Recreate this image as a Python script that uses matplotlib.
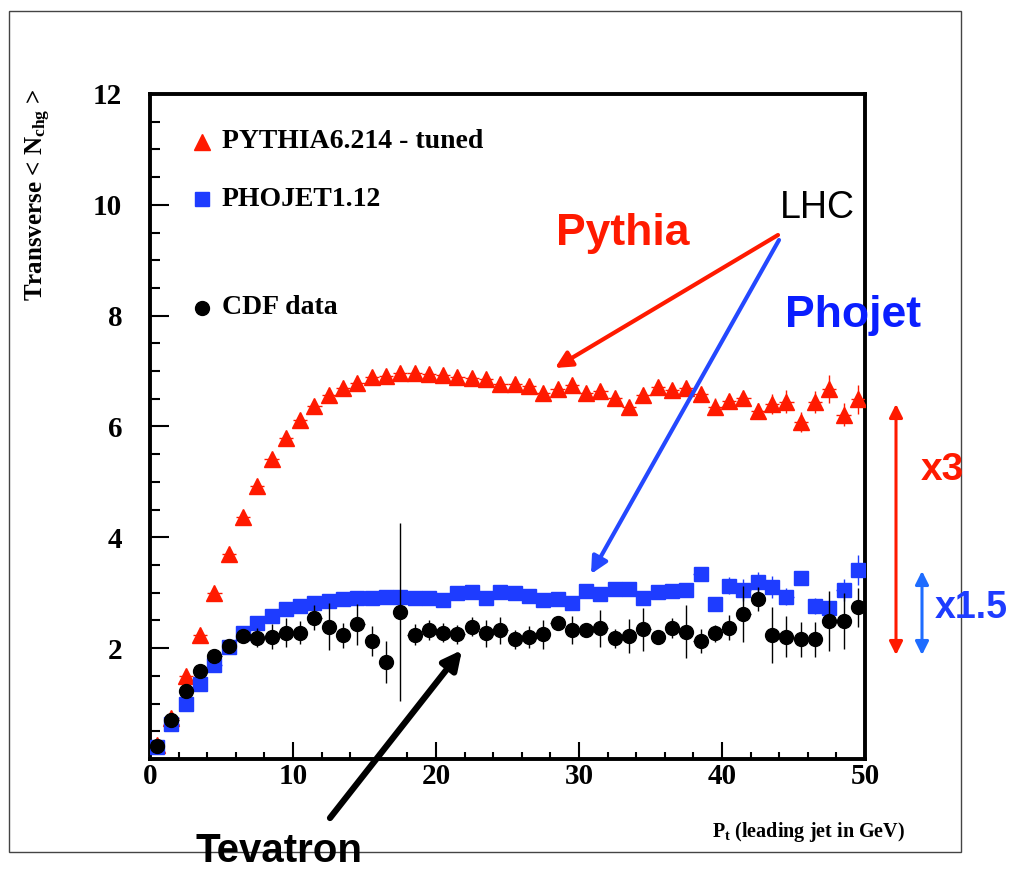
import numpy as np
import matplotlib
matplotlib.use("Agg")
import matplotlib.pyplot as plt
from matplotlib.lines import Line2D
from matplotlib.patches import Rectangle

plt.rcParams['mathtext.fontset'] = 'custom'
plt.rcParams['mathtext.rm'] = 'Liberation Serif:bold'
plt.rcParams['mathtext.it'] = 'Liberation Serif:bold'
plt.rcParams['mathtext.bf'] = 'Liberation Serif:bold'

# bin centres of leading jet Pt (GeV)
pt = np.arange(0.5, 50, 1.0)

pythia = [0.25, 0.74, 1.49, 2.24, 2.99, 3.70, 4.36, 4.92, 5.41, 5.79,
          6.11, 6.37, 6.56, 6.69, 6.78, 6.89, 6.91, 6.96, 6.96, 6.95,
          6.93, 6.89, 6.87, 6.86, 6.76, 6.77, 6.73, 6.61, 6.67, 6.74,
          6.61, 6.64, 6.51, 6.35, 6.56, 6.71, 6.65, 6.69, 6.58, 6.36,
          6.46, 6.51, 6.28, 6.40, 6.45, 6.08, 6.44, 6.68, 6.21, 6.49]
pythia_err = [0.02, 0.03, 0.03, 0.03, 0.03, 0.03, 0.03, 0.03, 0.03, 0.03,
              0.03, 0.03, 0.03, 0.03, 0.03, 0.03, 0.03, 0.03, 0.03, 0.03,
              0.04, 0.04, 0.04, 0.04, 0.04, 0.04, 0.05, 0.05, 0.05, 0.05,
              0.06, 0.06, 0.06, 0.07, 0.07, 0.08, 0.08, 0.08, 0.05, 0.15,
              0.10, 0.12, 0.15, 0.18, 0.20, 0.18, 0.20, 0.25, 0.21, 0.26]

phojet = [0.22, 0.64, 1.00, 1.35, 1.70, 2.02, 2.28, 2.45, 2.58, 2.71,
          2.76, 2.81, 2.86, 2.88, 2.90, 2.90, 2.92, 2.93, 2.91, 2.91,
          2.87, 3.00, 3.02, 2.91, 3.02, 3.00, 2.94, 2.87, 2.89, 2.81,
          3.04, 2.97, 3.06, 3.06, 2.91, 3.02, 3.04, 3.05, 3.33, 2.80,
          3.13, 3.05, 3.19, 3.11, 2.93, 3.26, 2.76, 2.72, 3.05, 3.41]
phojet_err = [0.02, 0.02, 0.02, 0.02, 0.02, 0.02, 0.02, 0.02, 0.02, 0.02,
              0.02, 0.02, 0.02, 0.02, 0.03, 0.03, 0.03, 0.03, 0.03, 0.03,
              0.03, 0.04, 0.04, 0.04, 0.04, 0.04, 0.05, 0.05, 0.05, 0.05,
              0.06, 0.06, 0.06, 0.06, 0.07, 0.07, 0.08, 0.08, 0.10, 0.10,
              0.15, 0.20, 0.18, 0.20, 0.15, 0.12, 0.15, 0.10, 0.20, 0.27]

cdf = [0.23, 0.70, 1.23, 1.59, 1.86, 2.04, 2.22, 2.19, 2.21, 2.28,
       2.28, 2.55, 2.39, 2.23, 2.43, 2.13, 1.75, 2.65, 2.24, 2.33,
       2.28, 2.25, 2.39, 2.27, 2.32, 2.16, 2.20, 2.25, 2.46, 2.33,
       2.32, 2.36, 2.18, 2.22, 2.34, 2.20, 2.36, 2.30, 2.13, 2.27,
       2.37, 2.62, 2.89, 2.24, 2.21, 2.16, 2.16, 2.49, 2.49, 2.74]
cdf_err = [0.02, 0.03, 0.04, 0.05, 0.06, 0.08, 0.12, 0.17, 0.23, 0.26,
           0.21, 0.22, 0.42, 0.23, 0.37, 0.27, 0.38, 1.61, 0.19, 0.18,
           0.17, 0.17, 0.17, 0.24, 0.24, 0.17, 0.20, 0.26, 0.10, 0.25,
           0.10, 0.33, 0.17, 0.30, 0.39, 0.10, 0.18, 0.47, 0.22, 0.15,
           0.22, 0.50, 0.22, 0.51, 0.37, 0.32, 0.32, 0.54, 0.51, 0.35]

red = '#ff1a00'
blue = '#1e3cff'

W, H = 1013, 871
fig = plt.figure(figsize=(W / 100, H / 100), dpi=100)


def fx(px):
    return px / W


def fy(py):
    return 1 - py / H


ax = fig.add_axes([fx(150), fy(759), (865 - 150) / W, (759 - 94) / H])

ax.errorbar(pt, pythia, yerr=pythia_err, xerr=0.5, fmt='^', color=red,
            ms=11, mec=red, elinewidth=1, capsize=0, zorder=3)
ax.errorbar(pt, phojet, yerr=phojet_err, xerr=0.5, fmt='s', color=blue,
            ms=9.5, mec=blue, elinewidth=1, capsize=0, zorder=4)
ax.errorbar(pt, cdf, yerr=cdf_err, xerr=0.5, fmt='o', color='black',
            ms=10, elinewidth=1, capsize=0, zorder=5)

ax.set_xlim(0, 50)
ax.set_ylim(0, 12)
ax.set_xticks([0, 10, 20, 30, 40, 50])
ax.set_xticks(np.arange(0, 51, 2), minor=True)
ax.set_yticks([2, 4, 6, 8, 10, 12])
ax.set_yticks(np.arange(0, 12.01, 0.5), minor=True)
ax.tick_params(which='both', direction='in', width=1.5, top=False, right=False)
ax.tick_params(axis='y', which='major', length=14, pad=20)
ax.tick_params(axis='y', which='minor', length=7)
ax.tick_params(axis='x', which='major', length=12, pad=3)
ax.tick_params(axis='x', which='minor', length=5)
for lab in ax.get_xticklabels() + ax.get_yticklabels():
    lab.set_fontfamily('Liberation Serif')
    lab.set_fontweight('bold')
    lab.set_fontsize(21)
for sp in ax.spines.values():
    sp.set_linewidth(2.8)

# axis titles
fig.text(fx(38), fy(195), r'Transverse < N$_{\mathrm{chg}}$ >', rotation=90,
         ha='center', va='center', family='Liberation Serif', weight='bold',
         fontsize=18)
fig.text(fx(905), fy(832), r'P$_{\mathrm{t}}$ (leading jet in GeV)',
         ha='right', va='center', family='Liberation Serif', weight='bold',
         fontsize=14.5)

# legend entries
legend_rows = [('^', red, 11, 'PYTHIA6.214 - tuned', 142),
               ('s', blue, 9.5, 'PHOJET1.12', 199),
               ('o', 'black', 10, 'CDF data', 308)]
for mk, col, ms, label, ypx in legend_rows:
    fig.add_artist(Line2D([fx(202)], [fy(ypx)], marker=mk, color=col, ms=ms,
                          mec=col, transform=fig.transFigure))
    fig.text(fx(222), fy(ypx), label, ha='left', va='center',
             family='Liberation Serif', weight='bold', fontsize=20)

# annotations
fig.text(fx(623), fy(233), 'Pythia', color=red, ha='center', va='center',
         family='Liberation Sans', weight='bold', fontsize=32)
fig.text(fx(817), fy(208), 'LHC', color='black', ha='center', va='center',
         family='Liberation Sans', fontsize=27)
fig.text(fx(853), fy(315), 'Phojet', color='#0a1eff', ha='center',
         va='center', family='Liberation Sans', weight='bold', fontsize=32)
fig.text(fx(942), fy(470), 'x3', color=red, ha='center', va='center',
         family='Liberation Sans', weight='bold', fontsize=28)
fig.text(fx(971), fy(608), 'x1.5', color=blue, ha='center', va='center',
         family='Liberation Sans', weight='bold', fontsize=27)
fig.text(fx(279), fy(851), 'Tevatron', color='black', ha='center',
         va='center', family='Liberation Sans', weight='bold', fontsize=29)


def arrow(x0, y0, x1, y1, col, lw, style='-|>', scale=22):
    fig.add_artist(matplotlib.patches.FancyArrowPatch(
        (fx(x0), fy(y0)), (fx(x1), fy(y1)), transform=fig.transFigure,
        arrowstyle=style, mutation_scale=scale, color=col, lw=lw,
        shrinkA=0, shrinkB=0))


arrow(778, 235, 555, 368, red, 3, scale=25)
arrow(779, 240, 591, 574, '#2448ff', 3, scale=25)
arrow(330, 818, 462, 650, 'black', 4.5, scale=28)
arrow(896, 655, 896, 404, red, 2.2, style='<|-|>', scale=20)
arrow(922, 655, 922, 571, '#1e6cff', 2.2, style='<|-|>', scale=20)

# outer frame
fig.add_artist(Rectangle((fx(9), fy(852)), (961 - 9) / W, (852 - 11) / H,
                         transform=fig.transFigure, fill=False,
                         edgecolor='#444444', lw=1))

fig.savefig('out.png', dpi=100)
